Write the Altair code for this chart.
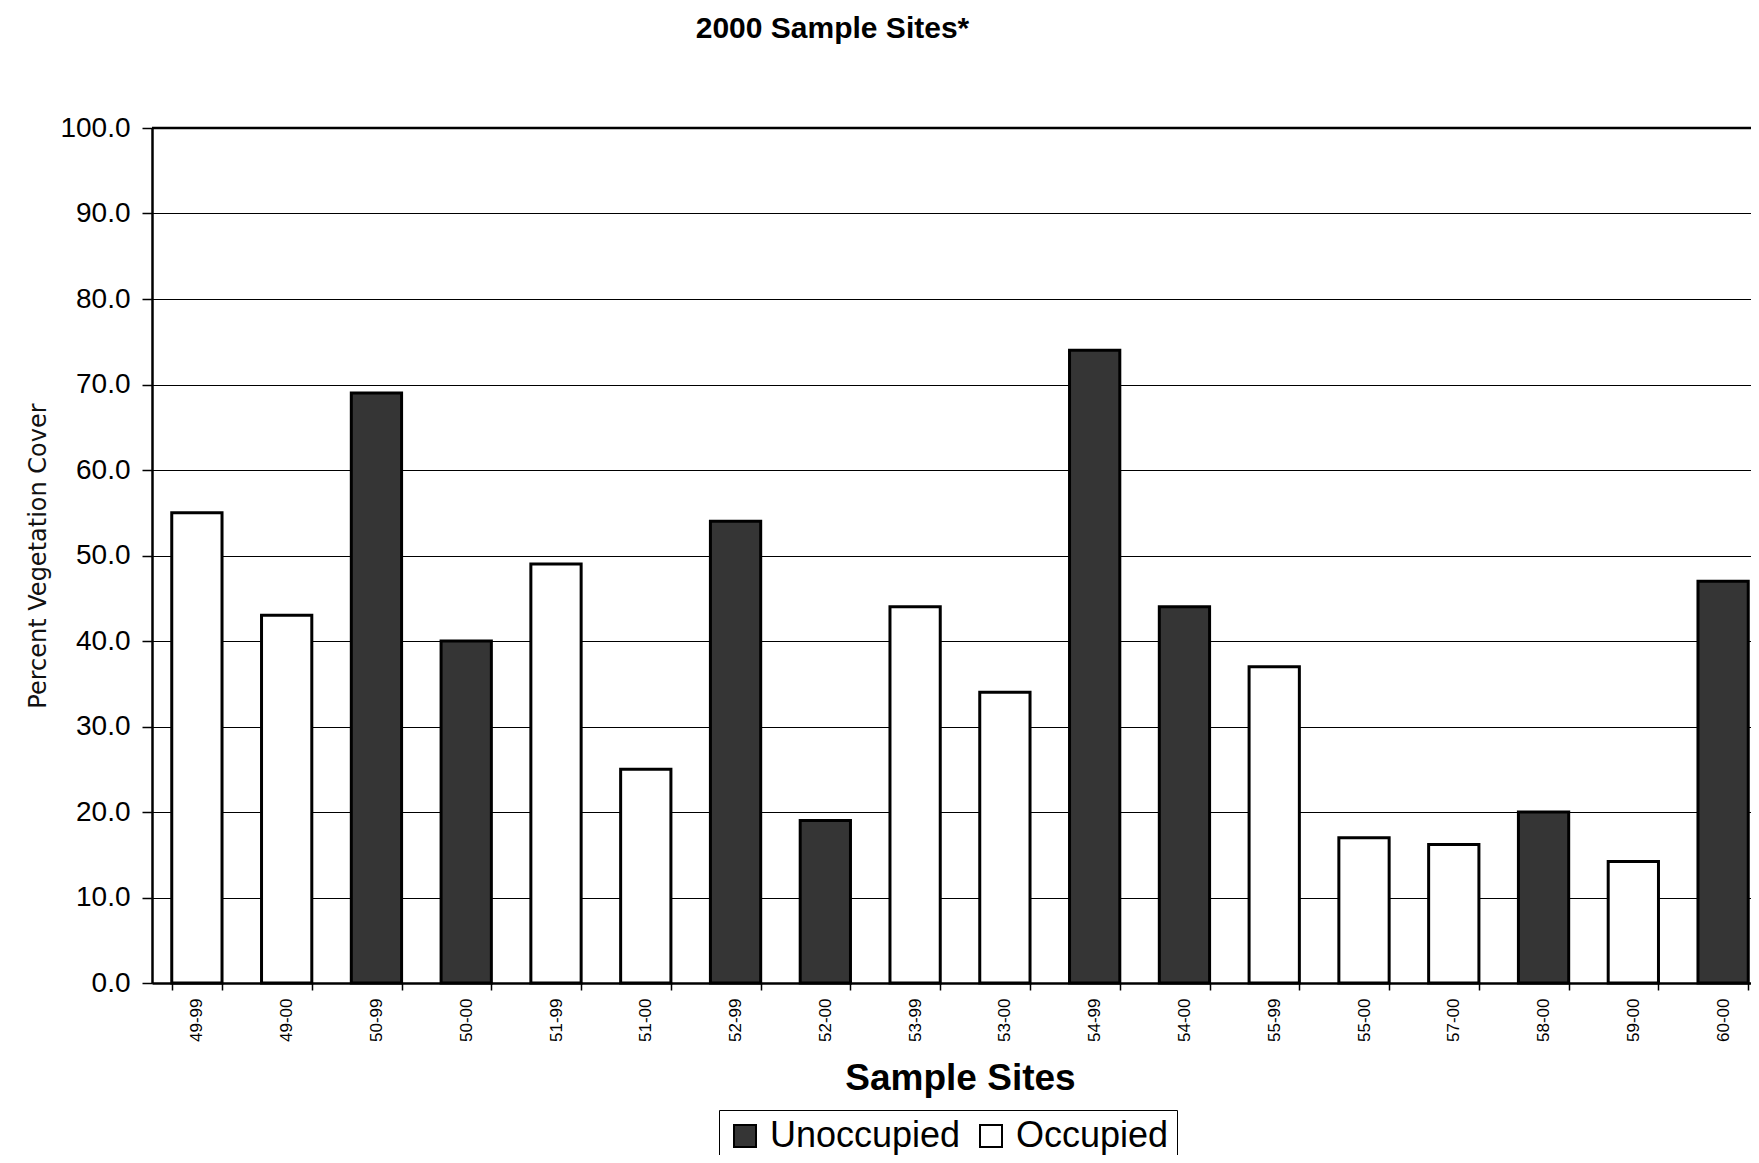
import altair as alt
import pandas as pd

sites = ["49-99", "49-00", "50-99", "50-00", "51-99", "51-00", "52-99", "52-00",
         "53-99", "53-00", "54-99", "54-00", "55-99", "55-00", "57-00", "58-00",
         "59-00", "60-00"]
cover = [55.0, 43.0, 69.0, 40.0, 49.0, 25.0, 54.0, 19.0,
         44.0, 34.0, 74.0, 44.0, 37.0, 17.0, 16.2, 20.0,
         14.2, 47.0]
status = ["Occupied", "Occupied", "Unoccupied", "Unoccupied", "Occupied", "Occupied",
          "Unoccupied", "Unoccupied", "Occupied", "Occupied", "Unoccupied", "Unoccupied",
          "Occupied", "Occupied", "Occupied", "Unoccupied", "Occupied", "Unoccupied"]
legend_order = ["Unoccupied", "Occupied"]
legend_fill = ["#353535", "#ffffff"]
y_ticks = [0, 10, 20, 30, 40, 50, 60, 70, 80, 90, 100]

df = pd.DataFrame({"site": sites, "cover": cover, "status": status})
top_df = pd.DataFrame({"ymax": [y_ticks[-1]]})

FONT = "Liberation Sans"

x_enc = alt.X(
    "site:N", sort=sites,
    scale=alt.Scale(paddingInner=0.44, paddingOuter=0.22, range=[0, 1616]),
    axis=alt.Axis(
        title="Sample Sites", titleFont=FONT, titleFontSize=37, titleFontWeight="bold",
        titleColor="#000", titlePadding=19,
        labelAngle=-90, labelFont=FONT, labelFontSize=17, labelColor="#000",
        labelPadding=8, tickBand="extent", ticks=True, tickSize=7, tickColor="#000",
        tickWidth=1.5, domainColor="#000", domainWidth=2.5, grid=False,
    ),
)

bars = alt.Chart(df).mark_bar(stroke="#000", strokeWidth=3).encode(
    x=x_enc,
    y=alt.Y(
        "cover:Q",
        scale=alt.Scale(domain=[y_ticks[0], y_ticks[-1]], nice=False),
        axis=alt.Axis(
            title="Percent Vegetation Cover", titleFont="DejaVu Sans", titleFontSize=24,
            titleFontWeight="normal", titleColor="#111", titlePadding=9,
            values=y_ticks, format=".1f", labelFont=FONT, labelFontSize=28,
            labelColor="#000", labelPadding=12, tickSize=10, tickColor="#000",
            tickWidth=1.5, domainColor="#000", domainWidth=2.5,
            grid=True, gridColor="#000", gridWidth=1.2,
        ),
    ),
    fill=alt.Fill(
        "status:N",
        scale=alt.Scale(domain=legend_order, range=legend_fill),
        legend=alt.Legend(
            title=None, orient="none", direction="horizontal",
            legendX=567, legendY=982,
            labelFont=FONT, labelFontSize=36, labelColor="#000", labelLimit=0,
            symbolType="square", symbolSize=484, symbolStrokeColor="#000",
            symbolStrokeWidth=2, columnPadding=12, labelOffset=7,
            strokeColor="#000", padding=8,
        ),
    ),
)

top_rule = alt.Chart(top_df).mark_rule(color="#000", strokeWidth=2.5).encode(
    y=alt.Y("ymax:Q")
)

chart = alt.layer(bars, top_rule).properties(
    width=1599, height=855,
    title=alt.TitleParams(
        "2000 Sample Sites*", font=FONT, fontSize=30, fontWeight="bold",
        color="#000", anchor="middle", frame="group", dx=-119, offset=70,
    ),
    autosize=alt.AutoSizeParams(type="none"),
    padding={"left": 144, "top": 120, "right": 0, "bottom": 172},
).configure_view(strokeWidth=0).configure(background="#ffffff")

chart.save("out.html", embed_options={"renderer": "svg", "actions": False})
